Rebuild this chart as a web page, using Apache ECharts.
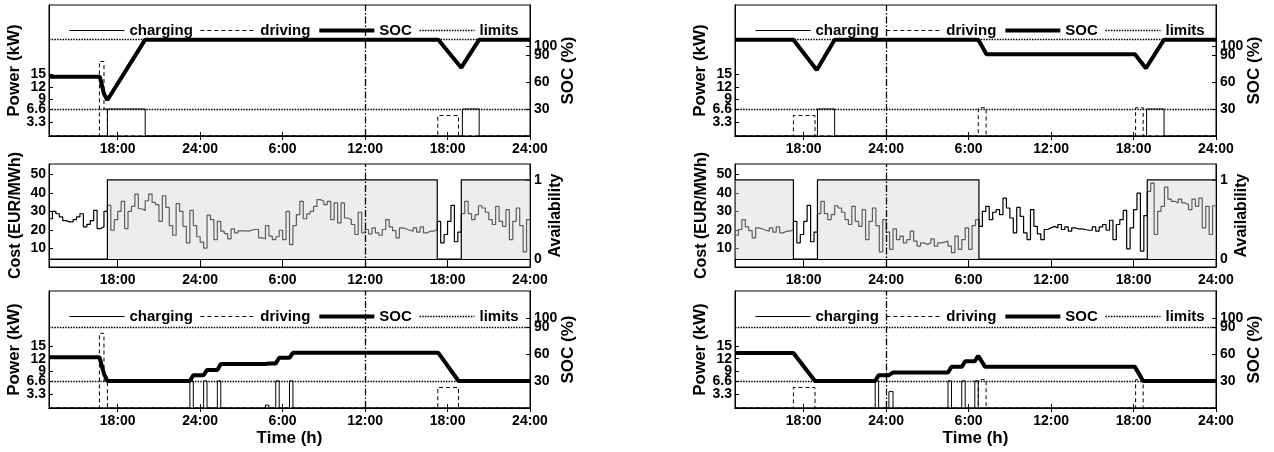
<!DOCTYPE html>
<html><head><meta charset="utf-8">
<script src="https://cdn.jsdelivr.net/npm/echarts@6/dist/echarts.min.js"></script>
<style>html,body{margin:0;padding:0;background:#fff}#c{width:1274px;height:452px}</style>
</head><body><div id="c"></div>
<script>
// ---------- axis ticks ----------
const tickHours = [18, 24, 30, 36, 42, 48];
const tickLabels = ['18:00', '24:00', '6:00', '12:00', '18:00', '24:00'];
const powerTicks = [3.3, 6.6, 9, 12, 15];
const socTicks = [30, 60, 90, 100];
const costTicks = [10, 20, 30, 40, 50];
const availTicks = [0, 1];

// ---------- electricity cost, 15-min steps starting day 1 13:00 (hours 13..72) ----------
const costStart = 13;
const costStep = 0.25;
const cost = [
 26, 30, 28.7, 27, 25, 24.3, 24.3, 25.5, 27, 28.7, 21.6, 23, 25, 30.5, 20.7, 21.6, 30,
 33.2, 19.8, 25.5, 30, 35.4, 20.7, 30, 32.7, 39.3, 31.4, 30.5, 35.7, 39.3, 34.8, 33.6, 24.6,
 38.4, 32.1, 22.3, 17.1, 34.1, 30, 21.9, 13, 30.5, 22.3, 16.3, 13.4, 10.2, 27.9, 25.5, 14.8,
 24.6, 19.3, 18, 15.2, 20.5, 18.4, 19.5, 19.5, 19.3, 19.8, 20.2, 20.2, 15.7, 15.2, 22.3, 16.6,
 14.8, 16.3, 19.8, 14.8, 30, 12.1, 22.3, 28.2, 35.4, 26, 28.6, 30, 32.7, 36.3,
 35.4,
 33.6, 35.4, 25.5, 34.5, 23.8, 34.5, 26.4, 25.5, 22.9, 17.5, 29.5, 18.4, 20.2, 17.9, 21.1, 18.4,
 17.1, 20.2, 25.5, 21.6, 19.6, 15.7, 21.1, 20.5, 19.8, 19.3, 21.1, 18.8, 21.6, 18.4, 19.3, 19.3,
 20.2, 24.6, 13, 17.5, 24.6, 33.2, 13.6, 18.8,
 28.8, 35.4, 28.8, 25.5, 28.2, 33, 31.8, 29.5, 25.5, 22.9, 32.7, 24.6, 21.9, 30.9, 14.8, 24.6,
 31.8, 22.3, 8.2, 25.5, 18.8, 9.5, 20.5, 14.8, 16.6, 13, 14.8, 19.3, 13.9, 11.3, 13, 12.1,
 13, 15.2, 11.3, 13, 13.4, 13.9, 11.3, 7.7, 16.6,
 9.5, 14.8, 21.1, 9.5, 22.3, 25.5,
 21.9, 30, 32.7, 25.5, 29.5, 30.9, 28.2, 37.1, 31.8, 26.4, 18.4, 32.1, 27.3, 18.4, 14.8, 30.9,
 21.9, 17.9, 14.8, 20.2, 21.1, 21.9, 21.1, 22.9, 20.2, 21.6, 19.3, 21.1, 20.5, 20.5, 20.2, 19.8,
 19.8, 21.6, 19.3, 21.6, 22.9, 19.8, 25.2, 14.8, 22.9, 25.5, 30.5, 9.8, 21.1, 30.9, 39.8, 8.6, 27.7,
 40.7, 45.2, 17.5, 30, 32.7, 43, 36.6, 35.4, 34.5, 36.6, 34.5, 33.6, 30.9, 36.6, 32.7, 37.1,
 21.1, 32.7, 17.5, 33
];
const rightShift = 24; // right column starts one day later

// ---------- availability (step, value holds until next time) ----------
const availLeftT = [13, 17.25, 41.25, 43, 48];
const availLeftV = [0, 1, 0, 1, 1];
const availRightT = [13, 17.25, 19, 30.75, 43, 48];
const availRightV = [1, 0, 1, 0, 1, 1];

// ---------- driving power (kW), step ----------
const driveLeftT = [13, 16.67, 17.0, 17.25, 41.29, 42.8, 48];
const driveLeftP = [0, 18.2, 6.6, 0, 5.0, 0, 0];
const driveRightT = [13, 17.25, 18.82, 30.7, 31.27, 42.15, 42.7, 48];
const driveRightP = [0, 5.0, 0, 6.9, 0, 6.9, 0, 0];

// ---------- charging power (kW), step ----------
const chargeTLT = [13, 17.25, 20.0, 43.08, 44.3, 48];
const chargeTLP = [0, 6.6, 0, 6.6, 0, 0];
const chargeBLT = [13, 23.25, 23.5, 24.25, 24.5, 25.25, 25.5, 28.75, 29.0, 29.5, 29.75, 30.5, 30.75, 48];
const chargeBLP = [0, 6.6, 0, 6.6, 0, 6.6, 0, 0.7, 0, 6.6, 0, 6.6, 0, 0];
const chargeTRT = [13, 19.0, 20.25, 42.95, 44.22, 48];
const chargeTRP = [0, 6.6, 0, 6.6, 0, 0];
const chargeBRT = [13, 23.2, 23.45, 24.2, 24.5, 28.5, 28.75, 29.5, 29.75, 30.45, 30.7, 48];
const chargeBRP = [0, 6.6, 0, 4.0, 0, 6.6, 0, 6.6, 0, 6.6, 0, 0];

// ---------- state of charge (%) ----------
const socTLT = [13, 16.7, 17.0, 17.25, 20.0, 41.33, 43.0, 44.3, 48];
const socTLV = [65.8, 65.8, 47, 40, 107, 107, 75.9, 107, 107];
const socBLT = [13, 16.67, 17.0, 17.25, 23.25, 23.5, 24.25, 24.5, 25.25, 25.5, 28.75, 29.0, 29.5, 29.75, 30.5, 30.75, 41.33, 42.8, 48];
const socBLV = [56.5, 56.5, 38, 30, 30, 36.5, 36.5, 42.3, 42.3, 48.8, 48.8, 49.4, 49.4, 55.8, 55.8, 61.3, 61.3, 30, 30];
const socTRT = [13, 17.25, 18.95, 20.25, 30.7, 31.3, 42.1, 42.9, 44.22, 48];
const socTRV = [107, 107, 73.3, 107, 107, 90.8, 90.8, 75.2, 107, 107];
const socBRT = [13, 17.25, 18.82, 23.2, 23.45, 24.2, 24.5, 28.5, 28.75, 29.5, 29.75, 30.45, 30.7, 31.2, 42.1, 42.7, 48];
const socBRV = [61.2, 61.2, 30, 30, 36.5, 36.5, 39.5, 39.5, 45.7, 45.7, 52, 52, 57.9, 45.7, 45.7, 30, 30];

// ---------- SOC limits ----------
const limitsTop = [30, 107];
const limitsBottom = [30, 90];

// ---------- divider (dash-dot) position ----------
const dividerLeft = 36;
const dividerRight = 24;

// ================= build chart =================
const FONT = 'Liberation Sans, Arial, Helvetica, sans-serif';
const txt = (size) => ({ color: '#000', fontFamily: FONT, fontWeight: 'bold', fontSize: size });
const zip = (t, v) => t.map((x, i) => [x, v[i]]);
// alternate subsets so that overlapping labels are all drawn
const evens = (a) => a.filter((_, i) => i % 2 === 0);
const odds = (a) => a.filter((_, i) => i % 2 === 1);

const colLeft = [49, 735];
const gridW = 481;
const rows = [{ top: 5, height: 131 }, { top: 164, height: 103 }, { top: 291, height: 117 }];
const powerMax = [32, null, 28.5];
const socMax = [145.5, null, 130];

const grids = [], xAxes = [], yAxes = [], series = [], legends = [];

function costData(shift) {
  const out = [];
  for (let i = 0; i < cost.length; i++) {
    const t = costStart + i * costStep - shift;
    if (t >= 13 - 1e-9 && t < 48 - 1e-9) out.push([t, cost[i]]);
  }
  const last = out[out.length - 1];
  out.push([48, last[1]]);
  return out;
}

const lblBase = { interval: 0, hideOverlap: false };
const blackLine = { show: true, lineStyle: { color: '#000', width: 1 } };
const yTick = (vals) => ({ show: true, inside: true, length: 4, customValues: vals, lineStyle: { color: '#000' } });

function addY(g, pos, min, max, vals, extra, nameCfg) {
  const ax = { type: 'value', gridIndex: g, position: pos, min, max,
    axisLine: blackLine, axisTick: yTick(vals),
    axisLabel: Object.assign({ customValues: vals, margin: pos === 'left' ? 3 : 4, formatter: (v) => String(v) }, lblBase, txt(14), extra || {}),
    splitLine: { show: false } };
  if (nameCfg) Object.assign(ax, nameCfg);
  yAxes.push(ax);
  return yAxes.length - 1;
}

for (let c = 0; c < 2; c++) {
  for (let r = 0; r < 3; r++) {
    const g = grids.length;
    grids.push({ left: colLeft[c], top: rows[r].top, width: gridW, height: rows[r].height,
      show: true, borderColor: '#000', borderWidth: 1, backgroundColor: 'transparent' });
    const xb = {
      type: 'value', gridIndex: g, min: 13, max: 48, position: 'bottom',
      axisLine: blackLine,
      axisTick: { show: true, inside: true, length: 4, customValues: tickHours, lineStyle: { color: '#000' } },
      axisLabel: Object.assign({ show: true, customValues: tickHours, margin: 6,
        formatter: (v) => tickLabels[tickHours.indexOf(v)] }, lblBase, txt(14)),
      splitLine: { show: false }
    };
    if (r === 2) {
      xb.name = 'Time (h)'; xb.nameLocation = 'middle'; xb.nameGap = 22;
      xb.nameTextStyle = txt(17);
    }
    xAxes.push(xb);
    const xi = xAxes.length - 1;
    xAxes.push({
      type: 'value', gridIndex: g, min: 13, max: 48, position: 'top',
      axisLine: blackLine,
      axisTick: { show: true, inside: true, length: 4, customValues: tickHours, lineStyle: { color: '#000' } },
      axisLabel: { show: false }, splitLine: { show: false }
    });
    let yl, yr;
    if (r === 1) {
      yl = addY(g, 'left', 0, 55.5, costTicks, null,
        { name: 'Cost (EUR/MWh)', nameLocation: 'middle', nameRotate: 90, nameGap: 25, nameTextStyle: txt(16) });
      yr = addY(g, 'right', -0.1, 1.2, availTicks, null,
        { name: 'Availability', nameLocation: 'middle', nameRotate: 90, nameGap: 18, nameTextStyle: txt(16) });
    } else {
      yl = addY(g, 'left', 0, powerMax[r], evens(powerTicks), null,
        { name: 'Power (kW)', nameLocation: 'middle', nameRotate: 90, nameGap: 26, nameTextStyle: txt(17) });
      addY(g, 'left', 0, powerMax[r], odds(powerTicks));
      yr = addY(g, 'right', 0, socMax[r], evens(socTicks), null,
        { name: 'SOC (%)', nameLocation: 'middle', nameRotate: 90, nameGap: 30, nameTextStyle: txt(17) });
      addY(g, 'right', 0, socMax[r], odds(socTicks));
    }
    const divider = c === 0 ? dividerLeft : dividerRight;

    if (r === 1) {
      series.push({ name: 'cost', type: 'line', step: 'end', xAxisIndex: xi, yAxisIndex: yl,
        data: costData(c === 0 ? 0 : rightShift), symbol: 'none', z: 2, color: '#000',
        lineStyle: { color: '#000', width: 1.2 } });
      series.push({ name: 'availability', type: 'line', step: 'end', xAxisIndex: xi, yAxisIndex: yr,
        data: c === 0 ? zip(availLeftT, availLeftV) : zip(availRightT, availRightV), symbol: 'none', z: 3, color: '#000',
        lineStyle: { color: '#000', width: 1.2 },
        areaStyle: { color: 'rgba(214,214,214,0.62)', origin: 0 } });
    } else {
      const top = r === 0;
      let chT, chP, sT, sV;
      if (c === 0) { chT = top ? chargeTLT : chargeBLT; chP = top ? chargeTLP : chargeBLP; sT = top ? socTLT : socBLT; sV = top ? socTLV : socBLV; }
      else { chT = top ? chargeTRT : chargeBRT; chP = top ? chargeTRP : chargeBRP; sT = top ? socTRT : socBRT; sV = top ? socTRV : socBRV; }
      const dT = c === 0 ? driveLeftT : driveRightT, dP = c === 0 ? driveLeftP : driveRightP;
      const lims = top ? limitsTop : limitsBottom;
      series.push({ name: 'limits', type: 'line', xAxisIndex: xi, yAxisIndex: yr, data: [], symbol: 'none', z: 2, color: '#000',
        lineStyle: { color: '#000', width: 1.3, type: [1.5, 1.2] },
        markLine: { silent: true, symbol: ['none', 'none'], label: { show: false },
          lineStyle: { color: '#000', width: 1.3, type: [1.5, 1.2] },
          data: lims.map(v => ({ yAxis: v })) } });
      series.push({ name: 'charging', type: 'line', step: 'end', xAxisIndex: xi, yAxisIndex: yl, color: '#000',
        data: zip(chT, chP), symbol: 'none', z: 3, lineStyle: { color: '#000', width: 1 } });
      series.push({ name: 'driving', type: 'line', step: 'end', xAxisIndex: xi, yAxisIndex: yl, color: '#000',
        data: zip(dT, dP), symbol: 'none', z: 3, lineStyle: { color: '#000', width: 1, type: [4, 3] } });
      series.push({ name: 'SOC', type: 'line', xAxisIndex: xi, yAxisIndex: yr, color: '#000',
        data: zip(sT, sV), symbol: 'none', z: 4, lineStyle: { color: '#000', width: 4 } });
      legends.push({ left: colLeft[c] + 15, top: rows[r].top + 13, itemWidth: 55, itemHeight: 14, itemGap: 7,
        itemStyle: { opacity: 0 },
        textStyle: txt(15), selectedMode: false,
        data: [
          { name: 'charging', lineStyle: { color: '#000', width: 1, type: 'solid' } },
          { name: 'driving', lineStyle: { color: '#000', width: 1, type: [4, 3] } },
          { name: 'SOC', lineStyle: { color: '#000', width: 4, type: 'solid' } },
          { name: 'limits', lineStyle: { color: '#000', width: 1.3, type: [1.5, 1.2] } }
        ] });
    }
    series.push({ name: 'divider' + g, type: 'line', xAxisIndex: xi, yAxisIndex: yl, data: [], symbol: 'none', z: 5,
      markLine: { silent: true, symbol: ['none', 'none'], label: { show: false },
        lineStyle: { color: '#000', width: 1.3, type: [7, 2, 1.5, 2] }, data: [{ xAxis: divider }] } });
  }
}

const chart = echarts.init(document.getElementById('c'), null, { renderer: 'canvas' });
chart.setOption({
  animation: false,
  backgroundColor: '#fff',
  grid: grids, xAxis: xAxes, yAxis: yAxes, series: series, legend: legends
});
</script></body></html>
